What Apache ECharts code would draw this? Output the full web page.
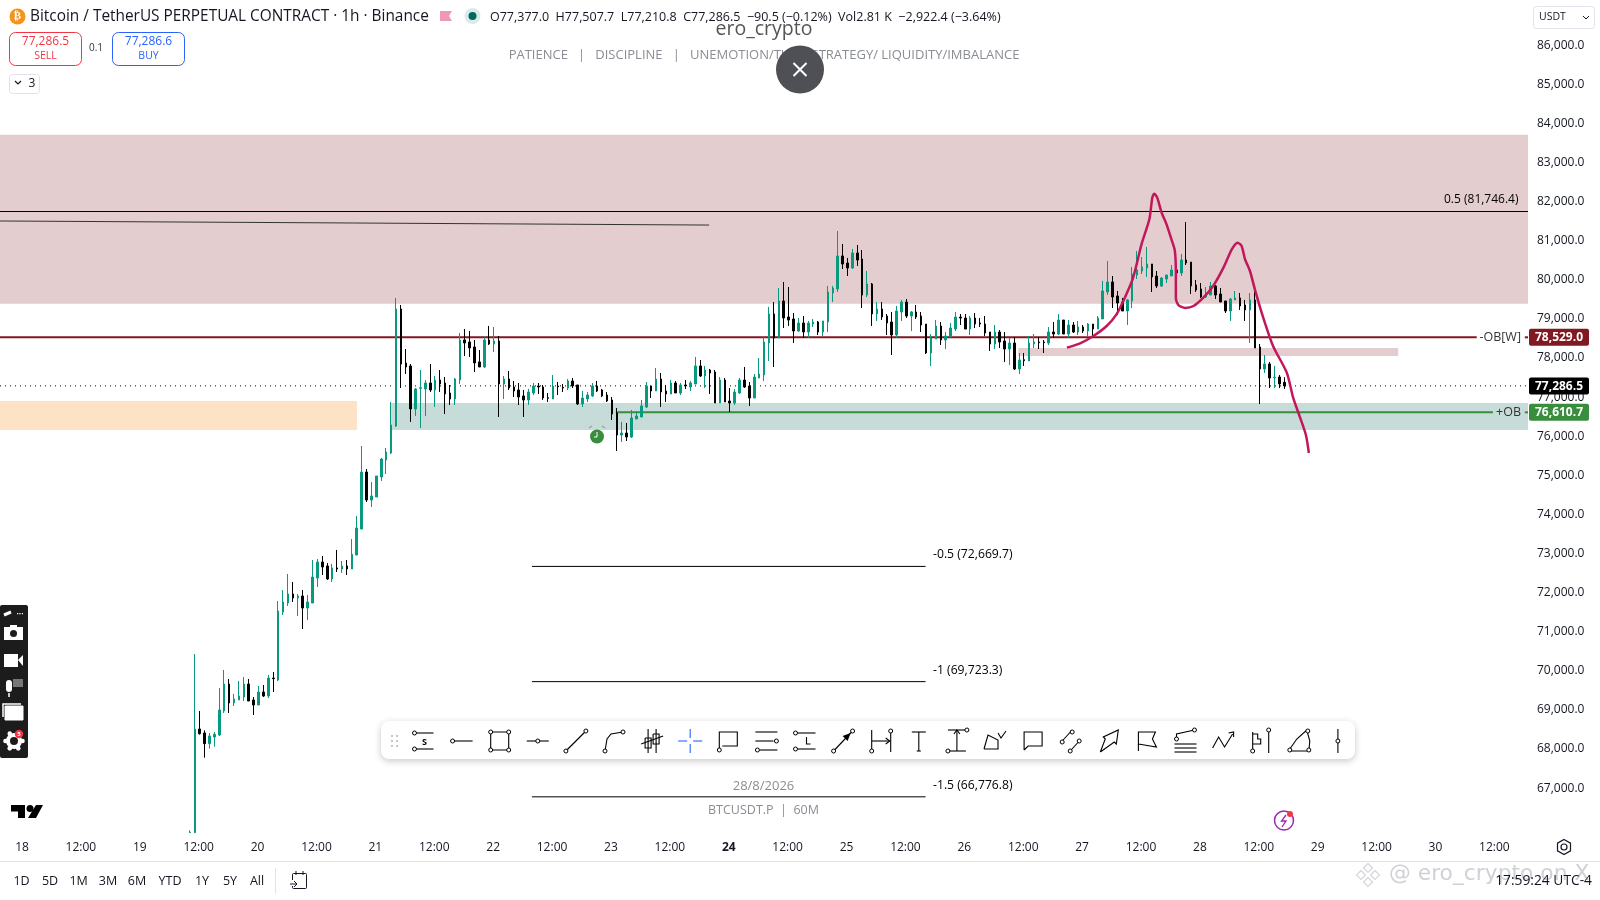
<!DOCTYPE html>
<html><head><meta charset="utf-8">
<style>html,body{margin:0;padding:0;background:#fff}#c{width:1600px;height:900px}</style>
<script src="https://cdn.jsdelivr.net/npm/echarts@6/dist/echarts.min.js"></script>
</head><body><div id="c"></div>
<script>
// hour index: 0 = day 18 00:00; each row [open, close, low, high]
const firstHour = 34;
const candleOffset = 0.2;
const day19 = [
[65860,65870,65860,65920],[65860,68512,65860,70430],[68512,68392,68367,68972],[68410,68137,67779,68478],[68137,68333,68009,68410],[68307,68376,68060,68435],
[68358,68998,68333,69560],[68972,69663,68921,70021],[69663,69177,68921,69791],[69177,69279,69100,69407],[69254,69356,69254,69740],[69330,69663,69228,69842],
[69663,69228,69228,69791],[69254,69126,68870,69330]];
const day20 = [
[69126,69458,69126,69612],[69458,69356,69330,69637],[69356,69816,69305,69893],[69816,69800,69458,69970],[69765,71530,69740,71785],[71504,71760,71427,72067],
[71734,71965,71658,72476],[71965,71862,71760,72271],[71862,71913,71402,71965],[71913,71606,71069,72067],[71606,71760,71300,71939],[71734,72399,71734,72834],
[72374,72783,72144,72860],[72783,72655,72450,72936],[72681,72348,72323,72757],[72348,72629,72271,72732],[72629,72604,72527,73090],[72604,72681,72502,72808],
[72681,72604,72450,72834],[72603,72978,72603,73371],[72961,73652,72961,73959],[73626,75084,73626,75749],[75084,74368,74317,75161],[74368,74470,74189,74828]];
const day21 = [
[74445,74982,74445,74982],[74956,75417,74854,75442],[75391,75596,75033,75698],[75570,76286,75545,76874],[76261,79253,76235,79534],[79253,77846,77232,79355],
[77872,77770,77590,78230],[77796,76696,76364,77847],[76696,77208,76517,77233],[77225,77240,76210,77693],[77208,77361,76517,77438],[77361,77182,77131,77847],
[77182,77438,76747,77540],[77438,77336,77131,77693],[77361,77080,76568,77515],[77105,76952,76798,77310],[76952,77463,76798,77489],[77438,78461,77335,78640],
[78461,78384,78052,78742],[78410,78256,78026,78691],[78282,77873,77642,78461],[77898,77770,77770,78205],[77770,78461,77745,78538],[78461,78359,78333,78819]];
const day22 = [
[78359,78435,78154,78793],[78435,77335,76492,78563],[77335,77463,76952,77540],[77463,77233,77182,77668],[77259,77156,77003,77412],[77182,77003,76798,77361],
[77029,76926,76492,77182],[76926,77131,76798,77208],[77105,77284,77054,77361],[77284,77259,77080,77361],[77259,76977,76926,77310],[76986,76969,76875,77105],
[76952,77284,76952,77566],[77284,77267,77054,77387],[77250,77233,77131,77336],[77233,77412,77182,77463],[77412,77284,77233,77489],[77310,76824,76798,77310],
[76824,76977,76747,77157],[76952,77054,76875,77131],[77029,77284,77003,77361],[77284,77156,77131,77412],[77182,77029,77003,77208],[77054,76901,76875,77131]];
const day23 = [
[76926,76568,76415,77003],[76594,76031,75622,76722],[76031,76082,75852,76364],[76082,75980,75878,76338],[75980,76466,75954,76671],[76440,76517,76440,76645],
[76491,76773,76491,76926],[76747,77284,76721,77386],[77284,77156,76977,77284],[77156,77463,77156,77744],[77463,77131,76747,77617],[77156,77080,76875,77310],
[77080,77361,77080,77438],[77361,77105,77105,77412],[77105,77310,77054,77361],[77310,77284,77207,77438],[77258,77361,77156,77412],[77335,77796,77335,78026],
[77796,77540,77514,77949],[77540,77693,77233,77796],[77693,77617,77080,77719],[77642,76849,76849,77693],[76849,77437,76849,77514],[77437,76875,76875,77489]];
const day24 = [
[76900,76849,76619,77233],[76849,77131,76798,77207],[77105,77437,77080,77489],[77437,77258,77233,77770],[77284,76977,76773,77386],[76977,77514,76977,77591],
[77489,77591,77489,78000],[77565,78409,77412,78563],[78384,79126,77923,79305],[79126,78512,77770,79432],[78512,79458,78512,79790],[79458,79023,78767,79944],
[79049,78972,78819,79816],[78998,78691,78384,79151],[78691,78895,78665,79023],[78895,78665,78512,79074],[78665,78895,78512,78947],[78870,78921,78793,78998],
[78921,78665,78588,78947],[78665,78947,78563,78947],[78921,79688,78665,79842],[79663,79790,79432,79842],[79765,80609,79688,81248],[80609,80404,80276,80916]];
const day25 = [
[80430,80302,80097,80558],[80302,80686,80276,80788],[80686,80506,80353,80890],[80532,79611,79279,80762],[79611,79893,79560,80225],[79893,79126,78819,79918],
[79126,79253,78946,79432],[79253,79049,78972,79432],[79074,78895,78588,79125],[78920,78588,78076,79176],[78588,79202,78511,79330],[79176,79432,78946,79483],
[79432,79074,79023,79509],[79074,79176,78690,79202],[79176,79048,78997,79355],[79074,78844,78665,79176],[78869,78128,78102,78869],[78128,78511,77795,78613],
[78486,78818,78486,78971],[78818,78460,78332,78920],[78460,78562,78230,78665],[78537,78767,78537,78895],[78741,79048,78690,79176],[79048,79023,78844,79125]];
const day26 = [
[79023,78741,78741,79125],[78741,79023,78588,79074],[79023,78869,78767,79151],[78895,78869,78792,79023],[78869,78639,78562,79074],[78665,78358,78179,78665],
[78358,78665,78230,78844],[78665,78409,78255,78716],[78435,78230,77897,78665],[78230,78383,77821,78511],[78383,77718,77693,78537],[77718,77948,77590,78128],
[77957,77932,77795,78128],[77923,78383,77923,78562],[78358,78409,78255,78613],[78409,78392,78230,78537],[78409,78392,78128,78460],[78383,78665,78332,78792],
[78665,78613,78511,78920],[78613,78971,78588,79125],[78971,78613,78613,78971],[78613,78844,78511,78971],[78844,78665,78639,78920],[78665,78792,78588,78946]];
const day27 = [
[78792,78690,78639,78844],[78690,78869,78562,78895],[78869,78741,78511,78869],[78741,79023,78741,79074],[79000,79714,79000,79970],[79688,79944,79611,80481],
[79944,79560,79279,80097],[79586,79407,79100,79714],[79432,79202,79202,79535],[79202,79484,78844,79509],[79458,80148,79279,80328],[80123,80251,80020,80737],
[80225,80328,80148,80583],[80302,80404,80072,80839],[80404,80072,79688,80404],[80097,79842,79790,80225],[79842,80046,79816,80072],[80020,80123,79918,80123],
[80097,80251,80097,80379],[80251,80174,80072,80328],[80174,80507,80097,80660],[80507,80430,80379,81478],[80455,79842,79637,80455],[79867,79739,79688,79995]];
const day28 = [
[79765,79560,79535,79918],[79560,79637,79535,79816],[79611,79842,79611,79944],[79842,79611,79509,79867],[79637,79432,79432,79790],[79458,79202,79151,79458],
[79202,79509,78947,79535],[79484,79535,79484,79714],[79535,79330,79228,79663],[79356,79228,78947,79484],[79228,79484,78384,79663],[79484,78256,78256,79816],
[78281,77719,76824,78358],[77719,77847,77617,78077],[77847,77489,77233,77898],[77494,77510,77233,77796],[77514,77335,77233,77565],[77377,77286.5,77210.8,77507.7]];
// tick lists
const timeTicks = [0,12,24,36,48,60,72,84,96,108,120,132,144,156,168,180,192,204,216,228,240,252,264,276,288,300];
const timeLabels = ['18','12:00','19','12:00','20','12:00','21','12:00','22','12:00','23','12:00','24','12:00','25','12:00','26','12:00','27','12:00','28','12:00','29','12:00','30','12:00'];
const priceTicks = [67000,68000,69000,70000,71000,72000,73000,74000,75000,76000,77000,78000,79000,80000,81000,82000,83000,84000,85000,86000];
// drawn levels
const lastPrice = 77286.5, obWeekly = 78529.0, obBull = 76610.7;
const fibHalf = 81746.4, fibMinus05 = 72669.7, fibMinus1 = 69723.3, fibMinus15 = 66776.8;
const xMin = -4.4825, xMax = 306.85, yMin = 65852, yMax = 87130;
const zonePremium = [83710, 79389], zoneOrange = [76900, 76160], zoneTeal = [76850, 76160], zoneSmall = [78256, 78052];
const zoneOrangeEnd = 68.25, zoneTealStart = 75.1, zoneSmallSpan = [203, 280.4];
const trendLine = [[xMin, 81504], [140, 81400]];
const fibSpan = [103.9, 184.1];
const sketchHours = [212.9,215.6,218.3,221.0,223.0,224.7,226.4,228.1,229.7,230.3,230.7,231.3,232.2,233.2,234.2,234.9,235.1,235.1,235.6,237.0,238.7,240.7,242.7,244.8,246.5,247.7,248.5,249.2,250.2,251.2,252.9,254.9,257.7,259.0,260.3,261.6,262.2];
const sketchPrices = [78265,78375,78563,78819,79117,79543,80055,80907,81547,82101,82203,82101,81717,81419,81035,80737,80140,79543,79356,79279,79330,79543,79842,80310,80779,80950,80865,80524,80225,79756,79032,78307,77625,76986,76517,76031,75570];

const FONT = '"Open Sans","Noto Sans",sans-serif';
const ink = '#131722';
const allRows = [].concat(day19,day20,day21,day22,day23,day24,day25,day26,day27,day28);
const candleData = allRows.map((r,i)=>[firstHour+i+candleOffset,r[0],r[1],r[2],r[3]]);
const fmt = v => v.toLocaleString('en-US',{minimumFractionDigits:1,maximumFractionDigits:1});

function seg(a,b,p,color,width,type,q){
  return {type:'line',data:[[a,p],[b,q===undefined?p:q]],symbol:'none',silent:true,z:4,animation:false,
    lineStyle:{color,width,type:type||'solid'}};
}
function zone(x0,x1,range,color){
  return [{coord:[x0,range[0]],itemStyle:{color}},{coord:[x1,range[1]]}];
}
const chart = echarts.init(document.getElementById('c'),null,{renderer:'canvas'});
const base = {
  animation:false,backgroundColor:'#fff',
  grid:{left:0,top:1,width:1528,height:832,containLabel:false},
  xAxis:{type:'value',min:xMin,max:xMax,splitLine:{show:false},axisLine:{show:false},axisTick:{show:false},
    axisLabel:{customValues:timeTicks,margin:9,color:ink,fontFamily:FONT,fontSize:12,showMinLabel:true,showMaxLabel:true,
      formatter:v=>{const s=timeLabels[timeTicks.indexOf(v)];return v===144?'{b|'+s+'}':s;},rich:{b:{fontWeight:'bold',fontSize:12,color:ink,fontFamily:FONT}}}},
  yAxis:{type:'value',position:'right',min:yMin,max:yMax,scale:true,splitLine:{show:false},axisLine:{show:false},axisTick:{show:false},
    axisLabel:{customValues:priceTicks,margin:9,color:ink,fontFamily:FONT,fontSize:12,formatter:v=>fmt(v)}},
  series:[
    {type:'line',data:[],silent:true,z:1,markArea:{silent:true,z:1,data:[
      zone(xMin,xMax,zonePremium,'#e3cdcf'),
      zone(xMin,zoneOrangeEnd,zoneOrange,'#fde2c6'),
      zone(zoneTealStart,xMax,zoneTeal,'#c7dcd8'),
      zone(zoneSmallSpan[0],zoneSmallSpan[1],zoneSmall,'#e3cdcf')]}},
    {type:'line',data:[[xMin,lastPrice],[xMax,lastPrice]],symbol:'none',silent:true,z:2,lineStyle:{color:'#000',width:1,type:[1,4]}},
    seg(xMin,xMax,fibHalf,'#000',1),
    seg(trendLine[0][0],trendLine[1][0],trendLine[0][1],'#333',1,'solid',trendLine[1][1]),
    seg(fibSpan[0],fibSpan[1],fibMinus05,'#000',1),
    seg(fibSpan[0],fibSpan[1],fibMinus1,'#000',1),
    seg(fibSpan[0],fibSpan[1],fibMinus15,'#000',1),
    Object.assign(seg(xMin,296.4,obWeekly,'#801922',2),{z:2}),
    seg(306.2,xMax,obWeekly,'#801922',2),
    Object.assign(seg(121,299.7,obBull,'#388e3c',2),{z:2}),
    seg(306.2,xMax,obBull,'#388e3c',2),
    {type:'candlestick',data:candleData,barWidth:2,z:3,silent:true,
      itemStyle:{color:'#089981',color0:'#000000',borderColor:'#089981',borderColor0:'#000000',borderWidth:1}},
    {type:'line',data:sketchHours.map((h,i)=>[h,sketchPrices[i]]),symbol:'none',smooth:0.25,silent:true,z:5,
      lineStyle:{color:'#c2185b',width:2.5}}
  ]
};
chart.setOption(base);
const py = v => chart.convertToPixel({yAxisIndex:0},v);

// ------ chrome
const G=[];
const T=(text,x,y,size,fill,align,weight,font)=>G.push({type:'text',x,y,z:100,silent:true,style:{text,fill:fill||ink,align:align||'left',verticalAlign:'middle',textAlign:align||'left',textVerticalAlign:'middle',font:(weight||'normal')+' '+size+'px '+(font||FONT)}});
const R=(x,y,w,h,fill,stroke,r,extra)=>G.push({type:'rect',z:99,silent:true,shape:{x,y,width:w,height:h,r:r||0},style:Object.assign({fill:fill||'none',stroke:stroke||'none',lineWidth:1},extra||{})});
const C=(cx,cy,r,fill,stroke,lw,z)=>G.push({type:'circle',z:z||100,silent:true,shape:{cx,cy,r},style:{fill:fill||'none',stroke:stroke||'none',lineWidth:lw||1}});
const P=(pts,stroke,lw,z)=>G.push({type:'polyline',z:z||100,silent:true,shape:{points:pts},style:{stroke:stroke||'#000',lineWidth:lw||1,fill:'none'}});
const F=(pts,fill,z)=>G.push({type:'polygon',z:z||100,silent:true,shape:{points:pts},style:{fill}});

// header
C(17.5,16.5,8,'#f7931a');T('₿',17.5,16.5,11,'#fff','center','bold','"DejaVu Sans"');
T('Bitcoin / TetherUS PERPETUAL CONTRACT · 1h · Binance',30,16.5,15.4,ink);
F([[440,11],[452,11],[449,16],[452,21],[440,21]],'#ef9ab2');
C(472.5,16,8,'#d9ecea');C(472.5,16,4,'#00695c');
T('O77,377.0  H77,507.7  L77,210.8  C77,286.5  −90.5 (−0.12%)  Vol2.81 K  −2,922.4 (−3.64%)',490,17,12.5,ink);
// trade boxes
R(9.5,32.5,72,33,'#fff','#f23645',6);T('77,286.5',45.5,42,12,'#f23645','center');T('SELL',45.5,56,10.5,'#f23645','center');
T('0.1',96,48,10,'#333','center');
R(112.5,32.5,72,33,'#fff','#2962ff',6);T('77,286.6',148.5,42,12,'#2962ff','center');T('BUY',148.5,56,10.5,'#2962ff','center');
R(9.5,74.5,30,19,'#fff','#e0e3eb',3);P([[15,81],[18,84],[21,81]],ink,1.2);T('3',32,84,12,ink,'center');
// channel text
T('ero_crypto',764,29,19.5,'#555','center');
T('PATIENCE   |   DISCIPLINE   |   UNEMOTION/TIME/ STRATEGY/ LIQUIDITY/IMBALANCE',764,55.5,13,'#8a8d94','center');
C(800,69.5,24,'#4f5055');P([[793.5,63],[806.5,76]],'#fff',2,101);P([[806.5,63],[793.5,76]],'#fff',2,101);
// currency
R(1533.5,6.5,61,22,'#fff','#e0e3eb',3);T('USDT',1539,17.5,10.5,ink);P([[1583,16],[1586,19],[1589,16]],ink,1);
// price tags
[[obWeekly,'#801922'],[lastPrice,'#000000'],[obBull,'#388e3c']].forEach(([v,c])=>{
  const y=py(v);R(1529,y-8.5,60,17,c,null,2);T(fmt(v),1559,y+0.5,12,'#fff','center','bold');
});
// level captions
T('0.5 ('+fmt(fibHalf)+')',1444,py(fibHalf)-11.5,12,'#000');
T('-OB[W]',1521,py(obWeekly),12.5,'#333','right');
T('+OB',1521,py(obBull),12.5,'#333','right');
T('-0.5 ('+fmt(fibMinus05)+')',933,py(fibMinus05)-11.5,12.2,'#000');
T('-1 ('+fmt(fibMinus1)+')',933,py(fibMinus1)-11.5,12.2,'#000');
T('-1.5 ('+fmt(fibMinus15)+')',933,py(fibMinus15)-11.5,12.2,'#000');
// alarm
C(597,436.5,7,'#388e3c');P([[597,432],[597,437],[594,437]],'#fff',1,101);
P([[589,428],[592,426]],'#9aa5a0',1.5);P([[605,428],[602,426]],'#9aa5a0',1.5);
// footer text over the chart
T('28/8/2026',763.5,786,13,'#8a8d94','center');
T('BTCUSDT.P  |  60M',763.5,810,12.5,'#8a8d94','center');
// logo
F([[11,805],[25,805],[25,818],[18,818],[18,811.5],[11,811.5]],'#000');C(30,808.5,3.5,'#000');F([[36,805],[43,805],[36,818],[28,818]],'#000');
// flash
C(1284,820.5,9.5,null,'#9c27b0',1.5);P([[1286,815],[1281.5,821],[1286,821],[1282,827]],'#9c27b0',1.3);C(1290,814,3,'#f23645');
// left dark panel
R(0,605,28,153,'#1c1c1c',null,2);
P([[4,615],[11,612]],'#fff',3);T('•••',20,614,6,'#fff','center');
R(4,627,19,13,'#fff');C(13.5,633.5,3.5,'#1c1c1c');R(10,625,7,3,'#fff');
R(4,654,14,13,'#fff');F([[18,660],[23,655],[23,666]],'#fff');
R(6,680,6,12,'#fff',null,3);P([[9,693],[9,697]],'#fff',1.5);R(13,679,10,8,'#777');
R(5,706,18,14,'#fff','#fff');P([[3,717],[3,704],[21,704]],'#fff',1.5);
C(14,741,6,'#1c1c1c','#fff',4);for(const a of [0,60,120,180,240,300]){const r=a*Math.PI/180;C(14+8.5*Math.cos(r),741+8.5*Math.sin(r),2.3,'#fff');}
C(19,734,4.2,'#f23645',null,1,101);G.push({type:'text',x:19,y:734.5,z:102,silent:true,style:{text:'5',fill:'#fff',align:'center',verticalAlign:'middle',textAlign:'center',textVerticalAlign:'middle',font:'bold 6px '+FONT}});
// drawing toolbar
R(381,721,974,38,'#fff',null,8,{shadowBlur:7,shadowColor:'rgba(0,0,0,.22)',shadowOffsetY:2});
for(const dx of [0,5])for(const dy of [-5,0,5])R(391+dx,741+dy-1,2,2,'#c4c6cc');
const toolX0=423.5,toolDX=38.1,toolY=741;
const toolIcons=[
 {l:[[[-7,-8],[10,-8]],[[-7,8],[10,8]]],c:[[-9,-8],[-9,8]],t:'S'},
 {l:[[[-11,0],[11,0]]],c:[[-9,0]]},
 {l:[[[-9,-9],[9,-9],[9,9],[-9,9],[-9,-9]]],c:[[-9,-9],[9,-9],[9,9],[-9,9]]},
 {l:[[[-11,0],[11,0]]],c:[[0,0]]},
 {l:[[[-10,10],[10,-10]]],c:[[-10,10],[10,-10]]},
 {l:[[[-9,10],[-7,-2],[-3,-7],[9,-9]]],c:[[-9,10],[9,-9]]},
 {l:[[[-4,-12],[-4,12]],[[4,-12],[4,12]],[[-7,-3],[-1,-3],[-1,7],[-7,7],[-7,-3]],[[1,-7],[7,-7],[7,3],[1,3],[1,-7]],[[-11,3],[11,-5]]]},
 {s:'#2962ff',l:[[[0,-12],[0,-3]],[[0,3],[0,12]],[[-12,0],[-3,0]],[[3,0],[12,0]]]},
 {l:[[[-9,9],[-9,-9],[9,-9],[9,5],[-6,5]]],c:[[-9,9]]},
 {l:[[[-11,-9],[11,-9]],[[-11,0],[7,0]],[[-7,9],[11,9]]],c:[[10,0],[-9,9]]},
 {l:[[[-7,-8],[11,-8]],[[-7,8],[11,8]],[[2,-4],[2,3],[6,3]]],c:[[-9,-8],[-9,8]]},
 {l:[[[-9,10],[9,-9]]],c:[[-9,10],[10,-10]],f:[[[8,-8],[0,-5],[5,0]]]},
 {l:[[[-9,-11],[-9,11]],[[10,-11],[10,11]],[[-9,0],[9,0]],[[5,-3],[9,0],[5,3]]],c:[[-9,10],[10,-10]]},
 {l:[[[-7,-9],[7,-9]],[[0,-9],[0,10]],[[-2,10],[2,10]]]},
 {l:[[[-9,-11],[9,-11]],[[-9,10],[9,10]],[[0,-11],[0,10]],[[-3,-7],[0,-11],[3,-7]]],c:[[10,-11],[-9,10]]},
 {l:[[[-11,8],[-7,-6],[3,-1],[3,8],[-11,8]],[[3,-8],[6,-3],[11,-10]]]},
 {l:[[[-9,9],[-9,-9],[9,-9],[9,5],[-5,5],[-9,9]]]},
 {l:[[[-9,0],[1,-11]],[[-1,10],[9,-1]]],c:[[-9,1],[1,-9],[-1,10],[8,0]]},
 {l:[[[-9,11],[-4,-2],[-6,-4],[9,-11],[7,3],[5,1],[-9,11]]]},
 {l:[[[-9,10],[-9,-9],[8,-9],[5,-2],[9,6],[-9,3]]]},
 {l:[[[-11,3],[11,3]],[[-11,7],[11,7]],[[-11,11],[11,11]],[[-9,-1],[-9,-7],[9,-11]]],c:[[-9,-2],[9,-11]]},
 {l:[[[-11,7],[-5,-4],[1,6],[9,-7]],[[5,-8],[10,-9],[10,-4]]],c:[]},
 {l:[[[-9,11],[-9,-9]],[[7,-12],[7,12]],[[-9,-7],[-4,-7],[-4,-2],[-1,-2],[-1,3],[-9,3]]],c:[[7,-11],[-9,10]]},
 {l:[[[-10,8],[-3,-2],[7,-11],[10,0],[9,10],[-10,10],[-10,8]]],c:[[-10,9],[8,-10],[9,9]]},
 {l:[[[0,-12],[0,12]]],c:[[0,0]]}
];
toolIcons.forEach((ic,i)=>{
  const cx=toolX0+i*toolDX,cy=toolY,s=ic.s||'#000';
  (ic.l||[]).forEach(p=>P(p.map(q=>[cx+q[0],cy+q[1]]),s,1.1));
  (ic.f||[]).forEach(p=>F(p.map(q=>[cx+q[0],cy+q[1]]),'#000'));
  (ic.c||[]).forEach(q=>C(cx+q[0],cy+q[1],2,'#fff',s,1,101));
  if(ic.t)T(ic.t,cx+1,cy+1,9,'#000','center','bold');
});
// cog
C(1564,847,3,null,ink,1.2);G.push({type:'polygon',z:100,silent:true,shape:{points:[[1564,839.5],[1570.5,843.2],[1570.5,850.8],[1564,854.5],[1557.5,850.8],[1557.5,843.2]]},style:{fill:'none',stroke:ink,lineWidth:1.2}});
// bottom bar
R(0,861,1600,1,'#e0e3eb');
const ranges=['1D','5D','1M','3M','6M','YTD','1Y','5Y','All'],rangeX=[21.5,50,78.6,108,137,170,202,230,257];
ranges.forEach((r,i)=>T(r,rangeX[i],881,12.5,ink,'center'));
R(275,868,1,26,'#e0e3eb');
R(292.5,873.5,14,15,'none',ink,1);P([[296,871],[296,875]],ink,1);P([[303,871],[303,875]],ink,1);R(290,880,8,6,'#fff');P([[290,884],[297,884]],ink,1);P([[294,881],[297,884],[294,887]],ink,1);
// watermark and clock
for(const [dx,dy] of [[0,-7],[-7,0],[7,0],[0,7]]){const x=1368+dx,y=875+dy;P([[x,y-4.5],[x+4.5,y],[x,y+4.5],[x-4.5,y],[x,y-4.5]],'#d4d6da',1.2);}
T('@ ero_crypto on X',1389,874,21.8,'#cfd1d6','left','normal','"DejaVu Sans"');
T('17:59:24 UTC-4',1592,881,13.8,ink,'right');
chart.setOption({graphic:{elements:G}});
</script></body></html>
